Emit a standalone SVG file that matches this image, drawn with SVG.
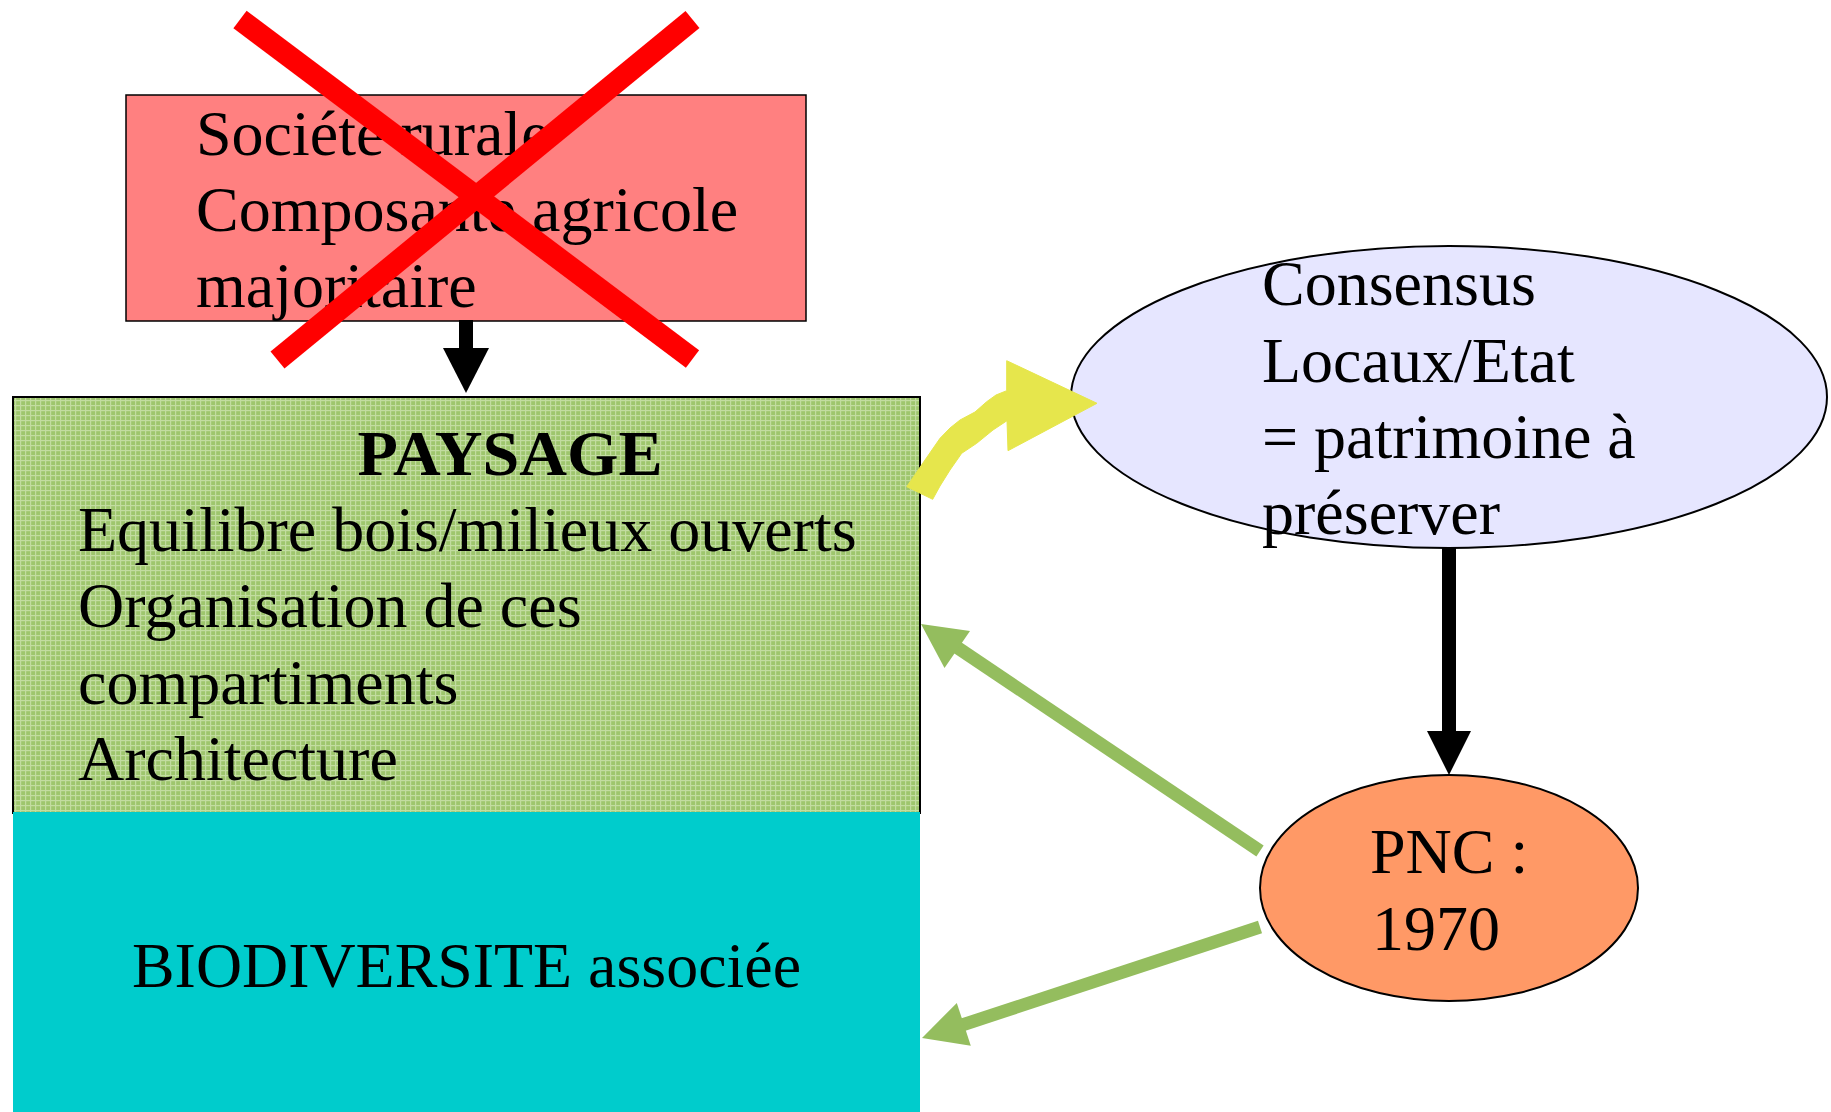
<svg xmlns="http://www.w3.org/2000/svg" width="1831" height="1112" viewBox="0 0 1831 1112">
<style>
.t{font-family:"Liberation Serif","Times New Roman",serif;font-size:64px;fill:#000}
.b{font-weight:bold}
.edge{stroke-linecap:butt;fill:none}
</style>
<defs>
<pattern id="grid" width="5" height="5" patternUnits="userSpaceOnUse">
<rect width="5" height="5" fill="#9EC66D"/>
<rect x="0" y="0" width="5" height="1.2" fill="#C2DCA0"/>
<rect x="0" y="0" width="1.2" height="5" fill="#C2DCA0"/>
</pattern>
</defs>
<rect width="1831" height="1112" fill="#fff"/>

<g id="node-societe">
<rect x="126" y="95" width="680" height="226" fill="#FF8080" stroke="#000" stroke-width="1.5"/>
<text class="t" x="196" y="155">Sociéte rurale</text>
<text class="t" x="196" y="231">Composante agricole</text>
<text class="t" x="196" y="307">majoritaire</text>
</g>

<g id="node-paysage">
<rect x="13" y="397" width="907" height="416" fill="url(#grid)" stroke="#000" stroke-width="2"/>
<text class="t b" x="510" y="475" text-anchor="middle" textLength="305" lengthAdjust="spacingAndGlyphs">PAYSAGE</text>
<text class="t" x="78" y="551">Equilibre bois/milieux ouverts</text>
<text class="t" x="78" y="627">Organisation de ces</text>
<text class="t" x="78" y="704">compartiments</text>
<text class="t" x="78" y="780">Architecture</text>
</g>

<g id="node-biodiversite">
<rect x="13" y="812" width="907" height="300" fill="#00CCCC"/>
<text class="t" x="132" y="987" textLength="669" lengthAdjust="spacingAndGlyphs">BIODIVERSITE associée</text>
</g>

<g id="node-consensus">
<ellipse cx="1449" cy="397" rx="378" ry="151" fill="#E6E6FF" stroke="#000" stroke-width="2"/>
<text class="t" x="1262" y="305">Consensus</text>
<text class="t" x="1262" y="382">Locaux/Etat</text>
<text class="t" x="1262" y="458">= patrimoine à</text>
<text class="t" x="1262" y="534">préserver</text>
</g>

<g id="node-pnc">
<ellipse cx="1449" cy="888" rx="189" ry="113" fill="#FF9966" stroke="#000" stroke-width="2"/>
<text class="t" x="1370" y="873">PNC :</text>
<text class="t" x="1372" y="950">1970</text>
</g>

<g id="connectors">
<g id="edge-societe-paysage">
<rect x="459" y="320" width="14" height="29" fill="#000"/>
<polygon points="443,348 489,348 466,393" fill="#000"/>
</g>
<g id="edge-paysage-consensus">
<path d="M906.7,486.7 L925,460 L940,438.3 L950,428 L960,420 L975,412 L986.7,401.7 L996,395 L1006.7,390.7 L1006.7,360.7 L1097,403.3 L1008,450.7 L1007,420.7 L993,430 L976.7,443.3 L961.7,453.3 L950,470 L940,486 L932.7,499.3 Z" fill="#E6E64C" stroke="#E6E64C" stroke-width="1" stroke-linejoin="round"/>
</g>
<g id="edge-consensus-pnc">
<rect x="1442" y="548" width="14" height="184" fill="#000"/>
<polygon points="1427,731 1471,731 1449,775" fill="#000"/>
</g>
<g id="edge-pnc-paysage">
<line class="edge" x1="1260" y1="851" x2="955" y2="646" stroke="#94BD5E" stroke-width="13"/>
<polygon points="921,624 970,631 944.5,668" fill="#94BD5E"/>
</g>
<g id="edge-pnc-biodiversite">
<line class="edge" x1="1260" y1="927" x2="962" y2="1025" stroke="#94BD5E" stroke-width="13"/>
<polygon points="922,1038 956.8,1002.9 970.8,1045.7" fill="#94BD5E"/>
</g>
</g>

<g id="cross">
<line x1="240" y1="19.5" x2="692.5" y2="359" stroke="#FF0000" stroke-width="22"/>
<line x1="692.5" y1="19.5" x2="277.5" y2="360" stroke="#FF0000" stroke-width="22"/>
</g>
</svg>
